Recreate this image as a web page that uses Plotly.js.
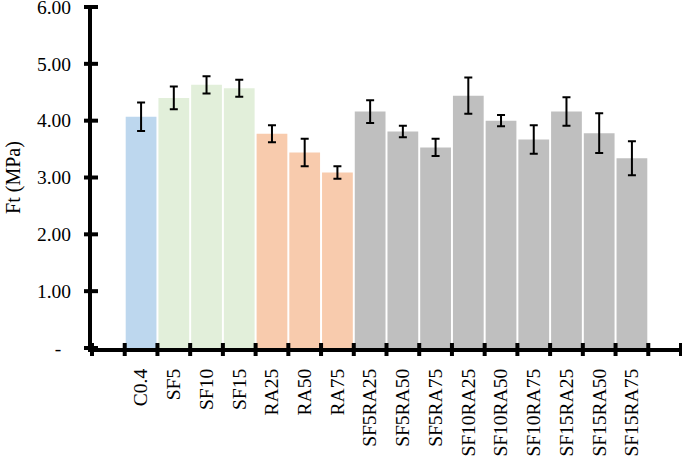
<!DOCTYPE html>
<html>
<head>
<meta charset="utf-8">
<script src="https://cdn.plot.ly/plotly-3.0.1.min.js"></script>
<style>
  html, body { margin: 0; padding: 0; background: #fff; }
  #chart { width: 682px; height: 456px; }
</style>
</head>
<body>
<div id="chart"></div>
<script>
// Ft (MPa) per mix, with error bars
var mixes = ["C0.4", "SF5", "SF10", "SF15", "RA25", "RA50", "RA75",
  "SF5RA25", "SF5RA50", "SF5RA75", "SF10RA25", "SF10RA50", "SF10RA75",
  "SF15RA25", "SF15RA50", "SF15RA75"];
var groups = ["C", "SF", "SF", "SF", "RA", "RA", "RA",
  "MIX", "MIX", "MIX", "MIX", "MIX", "MIX", "MIX", "MIX", "MIX"];
var ftMean = [4.07, 4.40, 4.63, 4.57, 3.77, 3.44, 3.09,
  4.16, 3.81, 3.53, 4.44, 4.00, 3.67, 4.16, 3.78, 3.34];
var ftErr = [0.25, 0.20, 0.15, 0.15, 0.15, 0.24, 0.11,
  0.20, 0.10, 0.15, 0.32, 0.10, 0.25, 0.25, 0.35, 0.30];
var yTicks = [0, 1, 2, 3, 4, 5, 6];
var yTickText = ["-\u00a0\u00a0", "1.00", "2.00", "3.00", "4.00", "5.00", "6.00"];

var groupColor = { C: "#BDD7EE", SF: "#E2EFDA", RA: "#F8CBAD", MIX: "#BFBFBF" };

(function () {
  // one empty slot before the first bar and after the last
  var xMin = -1.5;
  var xMax = mixes.length + 0.5;
  var yMin = 0;
  var yMax = 6;
  var bounds = [];
  for (var b = xMin; b <= xMax + 1e-9; b += 1) {
    bounds.push(b);
  }

  var font = { family: "Liberation Serif, Times New Roman, serif", size: 19.5, color: "#000" };
  var tickLine = { color: "#000", width: 4 };

  // tick marks crossing the axis lines (Excel "cross" style); domain refs so they are not clipped
  var shapes = [];
  bounds.forEach(function (bx) {
    var fx = (bx - xMin) / (xMax - xMin);
    shapes.push({
      type: "line", layer: "above", xref: "x domain", yref: "y domain",
      ysizemode: "pixel", yanchor: 0,
      x0: fx, x1: fx, y0: -8, y1: 5, line: tickLine,
    });
  });
  yTicks.forEach(function (yv) {
    var fy = (yv - yMin) / (yMax - yMin);
    shapes.push({
      type: "line", layer: "above", xref: "x domain", yref: "y domain",
      xsizemode: "pixel", xanchor: 0,
      x0: -8, x1: 6, y0: fy, y1: fy, line: tickLine,
    });
  });

  var traces = [
    {
      type: "bar",
      x: mixes,
      y: ftMean,
      marker: { color: groups.map(function (g) { return groupColor[g]; }), line: { width: 0 } },
      error_y: { type: "data", array: ftErr, visible: true, color: "#000", thickness: 2, width: 4 },
      hoverinfo: "x+y",
      showlegend: false,
    },
  ];

  var layout = {
    width: 682,
    height: 456,
    margin: { l: 92, r: 1, t: 7, b: 108 },
    paper_bgcolor: "#fff",
    plot_bgcolor: "#fff",
    font: font,
    bargap: 0.06,
    showlegend: false,
    shapes: shapes,
    xaxis: {
      type: "category",
      range: [xMin, xMax],
      showline: true,
      linecolor: "#000",
      linewidth: 4,
      ticks: "",
      tickangle: -90,
      tickfont: font,
      ticklabelstandoff: 9,
      showgrid: false,
      zeroline: false,
      fixedrange: true,
    },
    yaxis: {
      range: [yMin, yMax],
      tickmode: "array",
      tickvals: yTicks,
      ticktext: yTickText,
      ticks: "",
      showline: true,
      linecolor: "#000",
      linewidth: 4,
      showgrid: false,
      zeroline: false,
      tickfont: font,
      ticklabeloverflow: "allow",
      ticklabelstandoff: 13,
      title: { text: "Ft (MPa)", font: { family: font.family, size: 20, color: "#000" }, standoff: 12 },
      fixedrange: true,
    },
  };

  Plotly.newPlot("chart", traces, layout, { displayModeBar: false });
})();
</script>
</body>
</html>
